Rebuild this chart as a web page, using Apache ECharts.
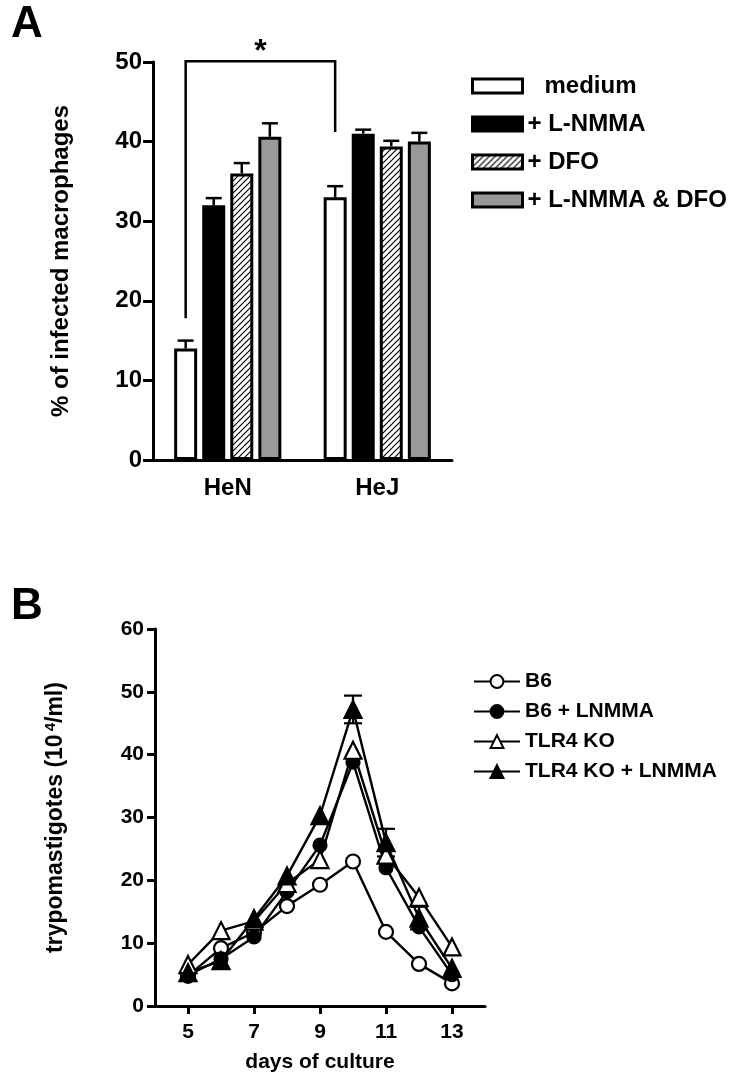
<!DOCTYPE html>
<html lang="en">
<head>
<meta charset="UTF-8">
<title>Infected macrophages and trypomastigotes</title>
<script src="https://cdn.jsdelivr.net/npm/echarts@6.0.0/dist/echarts.min.js"></script>
<style>
    html, body { margin: 0; padding: 0; background: #fff; }
    #main { width: 749px; height: 1080px; }
</style>
</head>
<body>
<div id="main"></div>
<script>
// ---- panel A: % of infected macrophages ----
var strains = ['HeN', 'HeJ'];
var treatments = ['medium', '+ L-NMMA', '+ DFO', '+ L-NMMA & DFO'];
var mediumVals = [14.0, 33.0];
var lnmmaVals = [32.0, 41.0];
var dfoVals = [36.0, 39.4];
var comboVals = [40.6, 40.0];
var mediumErr = [1.0, 1.4];
var lnmmaErr = [0.9, 0.5];
var dfoErr = [1.3, 0.7];
var comboErr = [1.7, 1.1];
// significance bracket: left leg bottom, top, right leg bottom
var bracketY = [17.8, 50.1, 41.2];

// ---- panel B: trypomastigotes over days of culture ----
var days = [5, 6, 7, 8, 9, 10, 11, 12, 13];
var b6 = [4.8, 9.2, 11.7, 15.9, 19.3, 23.0, 11.8, 6.7, 3.6];
var b6Lnmma = [4.9, 7.5, 11.0, 18.2, 25.6, 38.8, 22.0, 12.6, 5.0];
var tlr4 = [6.6, 12.0, 13.5, 19.5, 23.3, 40.7, 24.0, 17.3, 9.4];
var tlr4Lnmma = [5.3, 7.2, 13.9, 20.7, 30.3, 47.2, 26.0, 14.0, 6.0];
var tlr4LnmmaErr = [0, 0, 0, 0, 0, 2.2, 2.2, 1.8, 0];
var dayTicks = [5, 7, 9, 11, 13];
var lineNames = ['B6', 'B6 + LNMMA', 'TLR4 KO', 'TLR4 KO + LNMMA'];

var FONT = 'Liberation Sans';
var BAR_W = 23;
var BAR_GAP = 0.22;

window.onload = function () {
    var chart = echarts.init(document.getElementById('main'), null, { renderer: 'canvas' });

    // diagonal hatch for the DFO bars
    var hatch = document.createElement('canvas');
    hatch.width = 6;
    hatch.height = 6;
    var hc = hatch.getContext('2d');
    hc.fillStyle = '#fff';
    hc.fillRect(0, 0, 6, 6);
    hc.strokeStyle = '#000';
    hc.lineWidth = 1.2;
    hc.beginPath();
    hc.moveTo(0, 6); hc.lineTo(6, 0);
    hc.moveTo(-1, 1); hc.lineTo(1, -1);
    hc.moveTo(5, 7); hc.lineTo(7, 5);
    hc.stroke();

    var barVals = [mediumVals, lnmmaVals, dfoVals, comboVals];
    var barErrs = [mediumErr, lnmmaErr, dfoErr, comboErr];
    var barFills = ['#fff', '#000', { image: hatch, repeat: 'repeat' }, '#999'];

    var errA = [];
    for (var k = 0; k < barVals.length; k++) {
        for (var c = 0; c < strains.length; c++) {
            errA.push([c, barVals[k][c], barErrs[k][c], k]);
        }
    }

    var series = [];
    for (var s = 0; s < treatments.length; s++) {
        series.push({
            type: 'bar',
            name: treatments[s],
            xAxisIndex: 0,
            yAxisIndex: 0,
            data: barVals[s],
            barWidth: BAR_W,
            barGap: (BAR_GAP * 100) + '%',
            itemStyle: { color: barFills[s], borderColor: '#000', borderWidth: 3 }
        });
    }

    // upper error whiskers on the bars
    series.push({
        type: 'custom',
        xAxisIndex: 0,
        yAxisIndex: 0,
        data: errA,
        z: 3,
        renderItem: function (params, api) {
            var step = BAR_W * (1 + BAR_GAP);
            var off = (api.value(3) - 1.5) * step;
            var p0 = api.coord([api.value(0), api.value(1)]);
            var p1 = api.coord([api.value(0), api.value(1) + api.value(2)]);
            var x = p0[0] + off;
            var st = { stroke: '#000', lineWidth: 2.5 };
            return {
                type: 'group',
                children: [
                    { type: 'line', shape: { x1: x, y1: p0[1], x2: x, y2: p1[1] }, style: st },
                    { type: 'line', shape: { x1: x - 8, y1: p1[1], x2: x + 8, y2: p1[1] }, style: st }
                ]
            };
        }
    });

    // significance bracket between the two medium bars
    series.push({
        type: 'custom',
        xAxisIndex: 0,
        yAxisIndex: 0,
        data: [[0, 1]],
        z: 3,
        renderItem: function (params, api) {
            var step = BAR_W * (1 + BAR_GAP);
            var off = -1.5 * step;
            var a = api.coord([0, bracketY[0]]);
            var t = api.coord([0, bracketY[1]]);
            var b = api.coord([1, bracketY[2]]);
            var xa = a[0] + off, xb = b[0] + off;
            var st = { stroke: '#000', lineWidth: 2.5, fill: null };
            return {
                type: 'group',
                children: [
                    { type: 'polyline', shape: { points: [[xa, a[1]], [xa, t[1]], [xb, t[1]], [xb, b[1]]] }, style: st },
                    {
                        type: 'text',
                        style: {
                            text: '*', x: (xa + xb) / 2, y: t[1] + 7,
                            align: 'center', verticalAlign: 'bottom',
                            fontSize: 32, fontWeight: 'bold', fontFamily: FONT, fill: '#000'
                        }
                    }
                ]
            };
        }
    });

    // panel B lines
    var lineData = [b6, b6Lnmma, tlr4, tlr4Lnmma];
    var lineSym = ['circle', 'circle', 'triangle', 'triangle'];
    var lineSize = [14, 13, 17, 17];
    var lineFill = ['#fff', '#000', '#fff', '#000'];

    // error bars for TLR4 KO + LNMMA (drawn under the markers)
    var errB = [];
    days.forEach(function (d, i) {
        if (tlr4LnmmaErr[i] > 0) errB.push([d, tlr4Lnmma[i], tlr4LnmmaErr[i]]);
    });
    series.push({
        type: 'custom',
        xAxisIndex: 1,
        yAxisIndex: 1,
        z: 1,
        data: errB,
        renderItem: function (params, api) {
            var lo = api.coord([api.value(0), api.value(1) - api.value(2)]);
            var hi = api.coord([api.value(0), api.value(1) + api.value(2)]);
            var st = { stroke: '#000', lineWidth: 2.2 };
            return {
                type: 'group',
                children: [
                    { type: 'line', shape: { x1: lo[0], y1: lo[1], x2: hi[0], y2: hi[1] }, style: st },
                    { type: 'line', shape: { x1: hi[0] - 9, y1: hi[1], x2: hi[0] + 9, y2: hi[1] }, style: st },
                    { type: 'line', shape: { x1: lo[0] - 9, y1: lo[1], x2: lo[0] + 9, y2: lo[1] }, style: st }
                ]
            };
        }
    });

    for (var L = 0; L < lineNames.length; L++) {
        (function (vals) {
            series.push({
                type: 'line',
                name: lineNames[L],
                xAxisIndex: 1,
                yAxisIndex: 1,
                z: 2,
                data: days.map(function (d, i) { return [d, vals[i]]; }),
                symbol: lineSym[L],
                symbolSize: lineSize[L],
                showAllSymbol: true,
                lineStyle: { color: '#000', width: 2.4 },
                itemStyle: { color: lineFill[L], borderColor: '#000', borderWidth: 2.2 }
            });
        })(lineData[L]);
    }

    var axisLine = { show: true, lineStyle: { color: '#000', width: 3 } };
    var tickLabel = { color: '#000', fontFamily: FONT, fontWeight: 'bold' };

    var option = {
        animation: false,
        backgroundColor: '#fff',
        textStyle: { fontFamily: FONT, color: '#000' },
        title: [
            { text: 'A', left: 6, top: -2, textStyle: { fontSize: 44, fontWeight: 'bold', fontFamily: FONT, color: '#000' } },
            { text: 'B', left: 6, top: 580, textStyle: { fontSize: 44, fontWeight: 'bold', fontFamily: FONT, color: '#000' } }
        ],
        grid: [
            { left: 153, top: 62, width: 299, height: 398 },
            { left: 155, top: 629, width: 330, height: 377 }
        ],
        legend: [
            {
                data: treatments,
                orient: 'vertical',
                left: 466,
                top: 69,
                itemWidth: 50,
                itemHeight: 14,
                itemGap: 14,
                icon: 'rect',
                selectedMode: false,
                itemStyle: { borderColor: '#000', borderWidth: 3 },
                formatter: function (name) {
                    return name === 'medium' ? '{pad|' + name + '}' : name;
                },
                textStyle: {
                    fontSize: 24, fontWeight: 'bold', color: '#000', fontFamily: FONT,
                    rich: { pad: { fontSize: 24, fontWeight: 'bold', fontFamily: FONT, padding: [0, 0, 0, 17] } }
                }
            },
            {
                data: lineNames,
                orient: 'vertical',
                left: 468,
                top: 666,
                itemWidth: 46,
                itemHeight: 16,
                itemGap: 9,
                selectedMode: false,
                textStyle: { fontSize: 21, fontWeight: 'bold', color: '#000', fontFamily: FONT }
            }
        ],
        xAxis: [
            {
                type: 'category',
                gridIndex: 0,
                data: strains,
                axisLine: axisLine,
                axisTick: { show: false },
                axisLabel: Object.assign({ fontSize: 24, margin: 16 }, tickLabel),
                splitLine: { show: false }
            },
            {
                type: 'value',
                gridIndex: 1,
                min: 4,
                max: 14,
                interval: 1,
                axisLine: Object.assign({ onZero: false }, axisLine),
                axisTick: { show: true, length: 8, lineStyle: { color: '#000', width: 3 }, customValues: dayTicks },
                axisLabel: Object.assign({ fontSize: 21, margin: 16, customValues: dayTicks }, tickLabel),
                splitLine: { show: false },
                name: 'days of culture',
                nameLocation: 'middle',
                nameGap: 46,
                nameTextStyle: { fontSize: 21, fontWeight: 'bold', fontFamily: FONT, color: '#000' }
            }
        ],
        yAxis: [
            {
                type: 'value',
                gridIndex: 0,
                min: 0,
                max: 50,
                interval: 10,
                axisLine: axisLine,
                axisTick: { show: true, length: 10, lineStyle: { color: '#000', width: 3 } },
                axisLabel: Object.assign({ fontSize: 24, margin: 11 }, tickLabel),
                splitLine: { show: false },
                name: '% of infected macrophages',
                nameLocation: 'middle',
                nameGap: 80,
                nameTextStyle: { fontSize: 24, fontWeight: 'bold', fontFamily: FONT, color: '#000' }
            },
            {
                type: 'value',
                gridIndex: 1,
                min: 0,
                max: 60,
                interval: 10,
                axisLine: axisLine,
                axisTick: { show: true, length: 8, lineStyle: { color: '#000', width: 3 } },
                axisLabel: Object.assign({ fontSize: 21, margin: 11 }, tickLabel),
                splitLine: { show: false },
                name: 'trypomastigotes (10{sup|4}/ml)',
                nameLocation: 'middle',
                nameGap: 86,
                nameTextStyle: {
                    fontSize: 23, fontWeight: 'bold', fontFamily: FONT, color: '#000',
                    rich: { sup: { fontSize: 15, fontWeight: 'bold', fontFamily: FONT, verticalAlign: 'bottom', padding: [0, 0, 11, 3] } }
                }
            }
        ],
        series: series
    };
    chart.setOption(option);
};
</script>
</body>
</html>
